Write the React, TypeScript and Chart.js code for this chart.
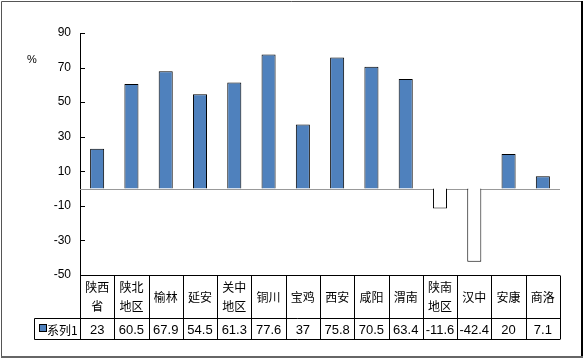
import React, { useEffect, useRef } from "react";
import { Chart, registerables } from "chart.js";

Chart.register(...registerables);

const categoryLines: string[][] = [
  ["陕西", "省"],
  ["陕北", "地区"],
  ["榆林"],
  ["延安"],
  ["关中", "地区"],
  ["铜川"],
  ["宝鸡"],
  ["西安"],
  ["咸阳"],
  ["渭南"],
  ["陕南", "地区"],
  ["汉中"],
  ["安康"],
  ["商洛"],
];
const categories = categoryLines.map((l) => l.join(""));
const values = [23, 60.5, 67.9, 54.5, 61.3, 77.6, 37, 75.8, 70.5, 63.4, -11.6, -42.4, 20, 7.1];
const seriesName = "系列1";
const yMin = -50;
const yMax = 90;
const yStep = 20;
const unitLabel = "%";

const BAR_BLUE = "#4F81BD";
const CJK = '"Noto Sans CJK SC", "Noto Sans", sans-serif';
const NUM = '"Liberation Sans", Arial, sans-serif';

const tablePlugin = {
  id: "tablePlugin",
  beforeDatasetsDraw(chart: any) {
    const ctx = chart.ctx;
    const { left, right } = chart.chartArea;
    const y = chart.scales.y;
    const py = Math.round(y.getPixelForValue(0)) + 0.5;
    ctx.save();
    ctx.strokeStyle = "#999999";
    ctx.lineWidth = 1;
    ctx.beginPath();
    ctx.moveTo(left, py);
    ctx.lineTo(right, py);
    ctx.stroke();
    ctx.restore();
  },
  afterDraw(chart: any) {
    const ctx = chart.ctx;
    const { left, right, top, bottom } = chart.chartArea;
    const y = chart.scales.y;
    const x = chart.scales.x;
    const n = categories.length;
    const colW = (right - left) / n;
    ctx.save();
    // inside tick marks
    ctx.strokeStyle = "#000";
    ctx.lineWidth = 1;
    y.ticks.forEach((t: any) => {
      const py = Math.round(y.getPixelForValue(t.value)) + 0.5;
      ctx.beginPath();
      ctx.moveTo(left, py);
      ctx.lineTo(left + 5, py);
      ctx.stroke();
    });
    // unit label
    ctx.fillStyle = "#000";
    ctx.font = `11px ${NUM}`;
    ctx.textAlign = "center";
    ctx.textBaseline = "middle";
    ctx.fillText(unitLabel, 32, 60);

    // table
    const r0 = Math.round(bottom) + 0.5;
    const r1 = r0 + 43;
    const r2 = r1 + 21;
    const legendLeft = 34.5;
    ctx.strokeStyle = "#000";
    ctx.beginPath();
    ctx.moveTo(left, r0);
    ctx.lineTo(right, r0);
    ctx.moveTo(legendLeft, r1);
    ctx.lineTo(right, r1);
    ctx.moveTo(legendLeft, r2);
    ctx.lineTo(right, r2);
    for (let i = 0; i <= n; i++) {
      const px = Math.round(left + i * colW) + 0.5;
      ctx.moveTo(px, r0);
      ctx.lineTo(px, r2);
    }
    ctx.moveTo(legendLeft, r1);
    ctx.lineTo(legendLeft, r2);
    ctx.stroke();

    // header labels
    ctx.fillStyle = "#000";
    ctx.textAlign = "center";
    ctx.textBaseline = "middle";
    ctx.font = `12px ${CJK}`;
    const midHeader = (r0 + r1) / 2;
    categoryLines.forEach((lines, i) => {
      const cx = x.getPixelForValue(i);
      const gap = 19;
      lines.forEach((ln, j) => {
        const cy = midHeader + (j - (lines.length - 1) / 2) * gap;
        ctx.fillText(ln, cx, cy);
      });
    });
    // values
    ctx.font = `13px ${NUM}`;
    const midVal = (r1 + r2) / 2 + 1;
    values.forEach((v, i) => {
      const cx = x.getPixelForValue(i);
      ctx.fillText(String(v), cx, midVal);
    });
    // legend key
    ctx.fillStyle = BAR_BLUE;
    ctx.fillRect(39.5, 324.5, 7, 7);
    ctx.strokeRect(39.5, 324.5, 7, 7);
    ctx.fillStyle = "#000";
    ctx.textAlign = "left";
    ctx.font = `12px ${CJK}`;
    ctx.fillText(seriesName, 47, midVal);

    // outer border
    ctx.strokeStyle = "#555";
    ctx.lineWidth = 1;
    ctx.beginPath();
    ctx.moveTo(1.5, 357);
    ctx.lineTo(1.5, 1.5);
    ctx.lineTo(582, 1.5);
    ctx.stroke();
    ctx.strokeStyle = "#000";
    ctx.lineWidth = 2;
    ctx.beginPath();
    ctx.moveTo(582, 1);
    ctx.lineTo(582, 357);
    ctx.stroke();
    ctx.strokeStyle = "#666";
    ctx.beginPath();
    ctx.moveTo(1, 357);
    ctx.lineTo(583, 357);
    ctx.stroke();
    ctx.restore();
  },
};

export default function App() {
  const ref = useRef<HTMLCanvasElement | null>(null);
  useEffect(() => {
    if (!ref.current) return;
    const chart = new Chart(ref.current, {
      type: "bar",
      data: {
        labels: categories,
        datasets: [
          {
            label: seriesName,
            data: values,
            backgroundColor: values.map((v) => (v < 0 ? "#FFFFFF" : BAR_BLUE)),
            borderColor: "#000000",
            borderWidth: 1,
            barPercentage: 0.41,
            categoryPercentage: 1,
          },
        ],
      },
      options: {
        responsive: false,
        animation: false,
        layout: { padding: { left: 0, right: 24, top: 33, bottom: 86 } },
        plugins: { legend: { display: false }, tooltip: { enabled: false } },
        scales: {
          x: { display: false },
          y: {
            min: yMin,
            max: yMax,
            afterFit: (s: any) => {
              s.width = 80;
            },
            ticks: {
              stepSize: yStep,
              padding: 9,
              color: "#000",
              font: { size: 12, family: NUM },
            },
            grid: { display: false, drawTicks: false, tickLength: 0 },
            border: { display: true, color: "#000", width: 1 },
          },
        },
      },
      plugins: [tablePlugin],
    });
    return () => chart.destroy();
  }, []);
  return (
    <div style={{ position: "absolute", left: 0, top: 0, width: 584, height: 361, background: "#fff" }}>
      <canvas ref={ref} width={584} height={361} style={{ display: "block" }} />
    </div>
  );
}
